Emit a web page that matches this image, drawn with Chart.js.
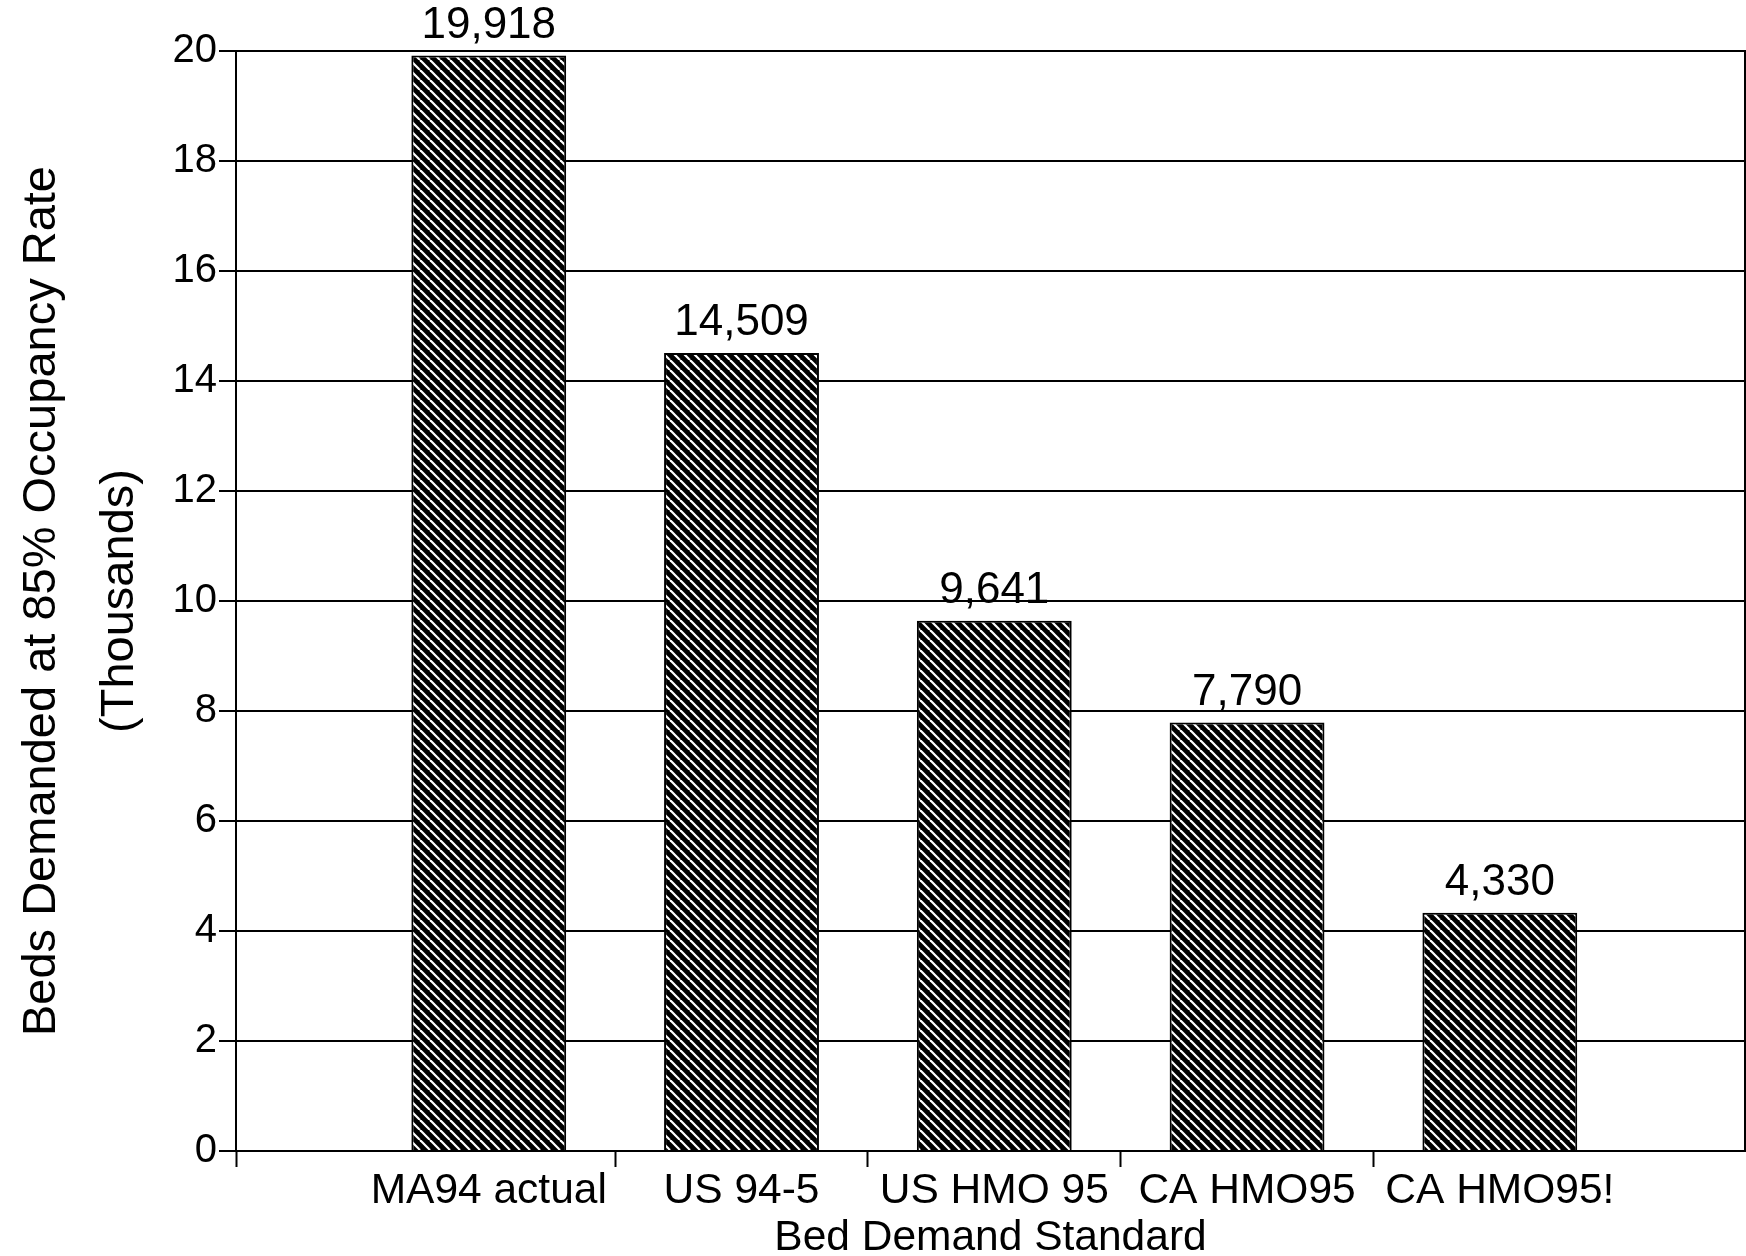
<!DOCTYPE html>
<html>
<head>
<meta charset="utf-8">
<script src="https://cdn.jsdelivr.net/npm/chart.js@4.4.1/dist/chart.umd.min.js"></script>
<style>
  html, body { margin: 0; padding: 0; background: #fff; }
  #wrap { width: 1746px; height: 1256px; }
</style>
</head>
<body>
<div id="wrap"><canvas id="chart" width="1746" height="1256"></canvas></div>
<script>
// Bed demand under each standard (beds); the axis is read in thousands
const categories = ['MA94 actual', 'US 94-5', 'US HMO 95', 'CA HMO95', 'CA HMO95!'];
const bedsDemanded = [19918, 14509, 9641, 7790, 4330];

// Axis ticks: y in thousands, x boundary marks between categories
const yTickValues = [0, 2, 4, 6, 8, 10, 12, 14, 16, 18, 20];
const xBoundaryTicks = [-1, 0.5, 1.5, 2.5, 3.5];

const FONT = '"Liberation Sans", Arial, Helvetica, sans-serif';
Chart.defaults.font.family = FONT;
Chart.defaults.color = '#000';

// Black fill with thin white diagonal hatching
function hatchPattern() {
  const tile = document.createElement('canvas');
  tile.width = 10; tile.height = 10;
  const g = tile.getContext('2d');
  g.fillStyle = '#000';
  g.fillRect(0, 0, 10, 10);
  g.strokeStyle = '#fff';
  g.lineWidth = 2.2;
  for (const o of [-10, 0, 10]) {
    g.beginPath();
    g.moveTo(o, 0);
    g.lineTo(o + 10, 10);
    g.stroke();
  }
  return g.createPattern(tile, 'repeat');
}

// Value written above each bar
const valueLabels = {
  id: 'valueLabels',
  afterDatasetsDraw(chart) {
    const ctx = chart.ctx;
    const meta = chart.getDatasetMeta(0);
    ctx.save();
    ctx.font = '44px ' + FONT;
    ctx.fillStyle = '#000';
    ctx.textAlign = 'center';
    ctx.textBaseline = 'alphabetic';
    meta.data.forEach((bar, i) => {
      ctx.fillText(bedsDemanded[i].toLocaleString('en-US'), bar.x, bar.y - 18);
    });
    ctx.restore();
  }
};

const xTicks = [...xBoundaryTicks, ...categories.map((_, i) => i)].sort((a, b) => a - b);

new Chart(document.getElementById('chart'), {
  type: 'bar',
  data: {
    datasets: [{
      data: bedsDemanded.map((v, i) => ({ x: i, y: v / 1000 })),
      backgroundColor: hatchPattern(),
      borderColor: '#000',
      borderWidth: 2,
      // sample spacing is the half-category tick step, so the bar spans ~61% of a category
      categoryPercentage: 1,
      barPercentage: 1.225
    }]
  },
  options: {
    responsive: false,
    animation: false,
    devicePixelRatio: 1,
    layout: { padding: { top: 51, right: 1, bottom: 0, left: 0 } },
    plugins: { legend: { display: false }, tooltip: { enabled: false } },
    scales: {
      x: {
        type: 'linear',
        position: 'bottom',
        min: -1,
        max: 4.97,
        offset: false,
        afterBuildTicks: (axis) => { axis.ticks = xTicks.map(v => ({ value: v })); },
        afterFit: (axis) => { axis.height = 105; },
        ticks: {
          autoSkip: false,
          maxRotation: 0,
          padding: 6,
          font: { size: 42.5, lineHeight: 0.84 },
          callback: (v) => (Number.isInteger(v) && v >= 0 ? categories[v] : '')
        },
        grid: {
          offset: false,
          drawOnChartArea: false,
          drawTicks: true,
          tickLength: 16,
          tickWidth: 2,
          tickColor: (c) => (c.tick && Number.isInteger(c.tick.value) && c.tick.value >= 0 ? 'rgba(0,0,0,0)' : '#000')
        },
        border: { display: true, color: '#000', width: 2 },
        title: {
          display: true,
          text: 'Bed Demand Standard',
          font: { size: 42.5, lineHeight: 0.85 },
          padding: { top: 0, bottom: 0 }
        }
      },
      y: {
        type: 'linear',
        position: 'left',
        min: 0,
        max: 20,
        afterBuildTicks: (axis) => { axis.ticks = yTickValues.map(v => ({ value: v })); },
        afterFit: (axis) => { axis.width = 236; },
        ticks: {
          padding: 2,
          font: { size: 40 }
        },
        grid: {
          color: '#000',
          lineWidth: 2,
          drawTicks: true,
          tickLength: 17,
          tickWidth: 2,
          tickColor: '#000'
        },
        border: { display: true, color: '#000', width: 2 },
        title: {
          display: true,
          text: ['Beds Demanded at 85% Occupancy Rate', '(Thousands)'],
          font: { size: 47, lineHeight: 1.66 },
          padding: { top: 3, bottom: 0 }
        }
      },
      yRight: {
        type: 'linear',
        position: 'right',
        min: 0,
        max: 20,
        afterFit: (axis) => { axis.width = 0; },
        ticks: { display: false },
        grid: { display: false },
        border: { display: true, color: '#000', width: 2 }
      }
    }
  },
  plugins: [valueLabels]
});
</script>
</body>
</html>
